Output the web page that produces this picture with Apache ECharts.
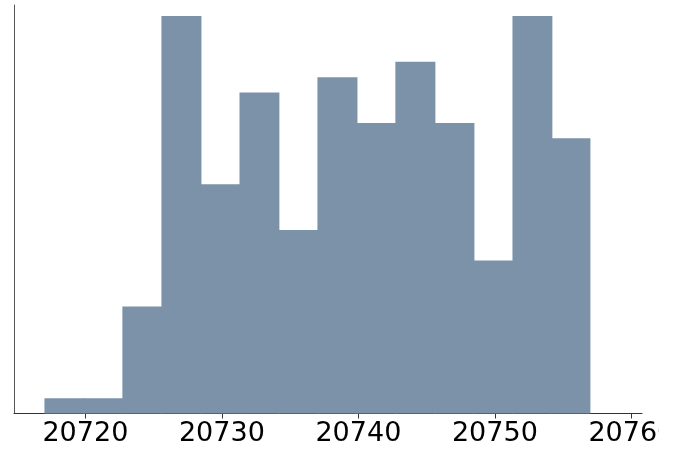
<!DOCTYPE html>
<html>
<head>
<meta charset="utf-8">
<script src="https://cdn.jsdelivr.net/npm/echarts@6/dist/echarts.min.js"></script>
<style>
html,body{margin:0;padding:0;background:#fff;}
#c{width:659px;height:453px;overflow:hidden;}
</style>
</head>
<body>
<div id="c"></div>
<script>
const binEdges = [20717.00, 20719.86, 20722.71, 20725.57, 20728.43, 20731.29, 20734.14, 20737.00, 20739.86, 20742.71, 20745.57, 20748.43, 20751.29, 20754.14, 20757.00];
const counts = [1, 1, 7, 26, 15, 21, 12, 22, 19, 23, 19, 10, 26, 18];
const xTicks = [20720, 20730, 20740, 20750, 20760];

const data = counts.map((c, i) => [binEdges[i], binEdges[i + 1], c]);

const chart = echarts.init(document.getElementById('c'), null, {renderer: 'canvas'});
chart.setOption({
  animation: false,
  grid: {left: 14, right: 17, top: 5, bottom: 39.5, containLabel: false, outerBoundsMode: 'none'},
  xAxis: {
    type: 'value',
    min: 20714.77,
    max: 20760.78,
    axisLine: {show: true, lineStyle: {color: '#333', width: 1}},
    axisTick: {show: true, length: 5, lineStyle: {color: '#333'}, customValues: xTicks},
    axisLabel: {show: true, customValues: xTicks, formatter: v => String(Math.round(v)), fontFamily: 'DejaVu Sans', fontSize: 27, color: '#000', margin: 7, hideOverlap: false},
    splitLine: {show: false}
  },
  yAxis: {
    type: 'value',
    min: 0,
    max: 26.72,
    axisLine: {show: true, lineStyle: {color: '#555', width: 1}},
    axisTick: {show: false},
    axisLabel: {show: false},
    splitLine: {show: false}
  },
  series: [{
    type: 'custom',
    data: data,
    encode: {x: [0, 1], y: 2},
    renderItem: function (params, api) {
      const p0 = api.coord([api.value(0), api.value(2)]);
      const p1 = api.coord([api.value(1), 0]);
      const extra = params.dataIndex < counts.length - 1 ? 1 : 0;
      return {
        type: 'rect',
        shape: {x: p0[0], y: p0[1], width: p1[0] - p0[0] + extra, height: p1[1] - p0[1]},
        style: {fill: '#7b92a9'}
      };
    }
  }]
});
</script>
</body>
</html>
